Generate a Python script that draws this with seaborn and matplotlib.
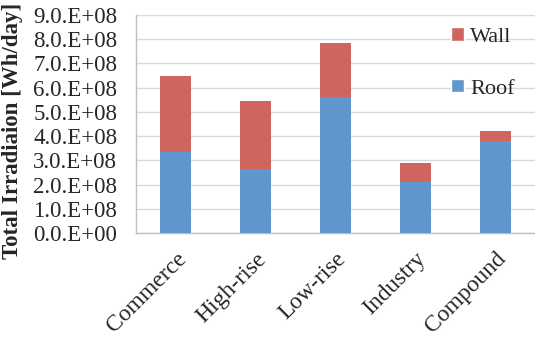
import matplotlib
matplotlib.use("Agg")
import matplotlib.pyplot as plt
import seaborn as sns
import pandas as pd
import numpy as np
from matplotlib.patches import Patch

categories = ["Commerce", "High-rise", "Low-rise", "Industry", "Compound"]
roof = [3.34e8, 2.66e8, 5.61e8, 2.09e8, 3.80e8]
wall = [3.16e8, 2.79e8, 2.22e8, 0.82e8, 0.43e8]
ytick_values = [i * 1e8 for i in range(10)]
ytick_labels = ["0.0.E+00", "1.0.E+08", "2.0.E+08", "3.0.E+08", "4.0.E+08",
                "5.0.E+08", "6.0.E+08", "7.0.E+08", "8.0.E+08", "9.0.E+08"]

sns.set_theme(style="white")
plt.rcParams['font.family'] = ['Liberation Serif', 'DejaVu Serif']

df = pd.DataFrame({"cat": categories, "roof": roof, "wall": wall})
df["total"] = df["roof"] + df["wall"]

wall_color = "#CE655E"
roof_color = "#6096CB"

fig = plt.figure(figsize=(5.35, 3.48), dpi=100)
ax = fig.add_axes([0.254, 0.330, 0.746, 0.627])

sns.barplot(data=df, x="cat", y="total", color=wall_color, width=0.39,
            saturation=1, ax=ax, zorder=3, edgecolor="none")
sns.barplot(data=df, x="cat", y="roof", color=roof_color, width=0.39,
            saturation=1, ax=ax, zorder=3, edgecolor="none")

ax.set_xlim(-0.5, len(categories) - 0.5)
ax.set_ylim(0, 9e8)
ax.set_yticks(ytick_values)
ax.set_yticklabels(ytick_labels, fontsize=16.5)
ax.yaxis.grid(True, color="#D9D9D9", linewidth=1.0, zorder=0)
ax.set_axisbelow(True)

ax.set_xticks(range(len(categories)))
ax.set_xticklabels(categories, fontsize=17, rotation=45, ha="right",
                   va="top", rotation_mode="anchor")
ax.tick_params(axis="x", which="major", length=0, pad=11)
ax.set_xticks(np.arange(-0.5, len(categories), 1.0), minor=True)
ax.tick_params(axis="x", which="minor", length=4.5, color="#BFBFBF", width=1, direction="out")
ax.tick_params(axis="y", which="major", length=4.5, color="#BFBFBF", width=1, direction="out", pad=9)

for s in ["top", "right"]:
    ax.spines[s].set_visible(False)
for s in ["left", "bottom"]:
    ax.spines[s].set_color("#BFBFBF")
    ax.spines[s].set_linewidth(1)

ax.set_xlabel("")
ax.set_ylabel("Total Irradiaion [Wh/day]", fontsize=16.5, fontweight="bold")
ax.yaxis.set_label_coords(-0.284, 0.47)

handles = [Patch(facecolor=wall_color, label="Wall"),
           Patch(facecolor=roof_color, label="Roof")]
ax.legend(handles=handles, loc="upper right", bbox_to_anchor=(1.0, 1.035),
          frameon=False, fontsize=16, handlelength=0.55, handleheight=0.55,
          handletextpad=0.3, labelspacing=1.45)

fig.savefig("out.png", dpi=100)
